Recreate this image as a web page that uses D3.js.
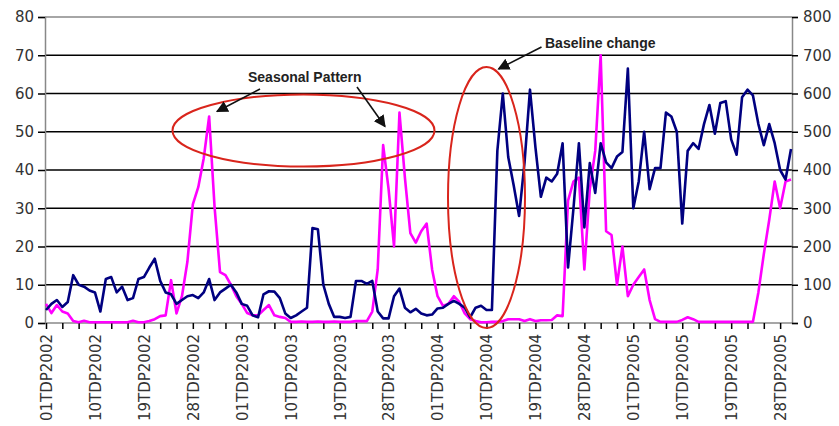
<!DOCTYPE html>
<html>
<head>
<meta charset="utf-8">
<script src="https://cdn.jsdelivr.net/npm/d3@7"></script>
<style>
  html, body { margin: 0; padding: 0; background: #fff; }
  svg { display: block; }
</style>
</head>
<body>
<div id="chart"></div>
<script>
// dekads (ten day periods), 36 per year, 01TDP2002 .. 30TDP2005
const years = [2002, 2003, 2004, 2005];
const periodsShown = 138;
const categories = years.flatMap(y => d3.range(1, 37).map(d => String(d).padStart(2, "0") + "TDP" + y)).slice(0, periodsShown);

const tickLabels = [
  "01TDP2002", "10TDP2002", "19TDP2002", "28TDP2002",
  "01TDP2003", "10TDP2003", "19TDP2003", "28TDP2003",
  "01TDP2004", "10TDP2004", "19TDP2004", "28TDP2004",
  "01TDP2005", "10TDP2005", "19TDP2005", "28TDP2005"
];

const leftTicks = [0, 10, 20, 30, 40, 50, 60, 70, 80];
const rightTicks = [0, 100, 200, 300, 400, 500, 600, 700, 800];

// navy series, left axis
const blueSeries = [
  3.4, 5, 6, 4.2, 5.5, 12.5, 10, 9.5, 8.5, 8,
  3, 11.5, 12, 8, 9.5, 6, 6.5, 11.5, 12, 14.5,
  16.8, 11, 8, 7.5, 5, 6, 7, 7.3, 6.5, 8,
  11.5, 6, 8, 9, 10, 8, 5, 4.5, 2, 1.5,
  7.5, 8.3, 8.2, 6.5, 2.5, 1.3, 2, 3, 4, 24.8,
  24.5, 10, 5, 1.6, 1.6, 1.3, 1.6, 11, 11, 10.2,
  11, 3, 1.2, 1.2, 7, 9, 4, 2.8, 3.7, 2.5,
  2, 2.2, 3.8, 4, 5, 5.8, 5, 4, 1.5, 4,
  4.5, 3.4, 3.4, 45, 60, 43.4, 36, 28, 42, 61,
  46, 33, 38, 37, 39, 47, 14.5, 30, 47, 25,
  41.8, 34, 47, 42, 40.5, 43.5, 44.7, 66.5, 30, 37,
  50, 35, 40.5, 40.5, 55, 54, 50, 26, 45, 47,
  45.5, 52, 57, 49.5, 57.5, 58, 48, 44, 59, 61,
  59.5, 52, 46.5, 52, 47, 40, 37.5, 45.5
];

// magenta series, right axis
const magentaSeries = [
  50, 26, 47, 30, 25, 5, 2, 6, 2, 2,
  2, 2, 2, 2, 2, 2, 6, 2, 2, 5,
  10, 18, 20, 112, 25, 70, 160, 310, 355, 430,
  540, 303, 133, 125, 100, 70, 50, 26, 20, 20,
  34, 47, 20, 16, 13, 3, 3, 4, 3, 3,
  4, 3, 3, 4, 3, 3, 3, 5, 5, 5,
  30, 140, 465, 350, 200, 550, 380, 235, 210, 240,
  260, 140, 70, 45, 50, 70, 55, 25, 10, 5,
  2, 2, 3, 3, 5, 10, 10, 10, 5, 10,
  5, 7, 7, 8, 20, 18, 320, 370, 380, 140,
  350, 450, 700, 240, 230, 100, 200, 70, 100, 120,
  140, 60, 10, 3, 3, 3, 3, 8, 15, 10,
  3, 3, 3, 3, 3, 3, 3, 3, 3, 3,
  3, 80, 180, 270, 370, 300, 370, 375
];

const width = 839, height = 426;
const plotLeft = 45, plotRight = 792, plotTop = 17, plotBottom = 323;

const svg = d3.select("#chart").append("svg")
  .attr("width", width)
  .attr("height", height);

const x = d3.scalePoint()
  .domain(categories)
  .range([plotLeft + 1, plotRight - 1]);

const yLeft = d3.scaleLinear().domain([0, 80]).range([plotBottom, plotTop]);
const yRight = d3.scaleLinear().domain([0, 800]).range([plotBottom, plotTop]);

// gridlines
svg.append("g")
  .selectAll("line")
  .data(leftTicks.filter(d => d > 0))
  .join("line")
  .attr("x1", plotLeft).attr("x2", plotRight)
  .attr("y1", d => yLeft(d)).attr("y2", d => yLeft(d))
  .attr("stroke", d => d === 80 ? "#888" : "#000")
  .attr("stroke-width", d => d === 80 ? 1.5 : 1.6);

// left axis
const gLeft = svg.append("g")
  .attr("transform", `translate(${plotLeft},0)`)
  .call(d3.axisLeft(yLeft).tickValues(leftTicks).tickSize(7).tickPadding(4));
gLeft.select(".domain").attr("stroke", "#888").attr("stroke-width", 1.5);
gLeft.selectAll(".tick line").attr("stroke", "#000").attr("stroke-width", 1.5);

// right axis
const gRight = svg.append("g")
  .attr("transform", `translate(${plotRight},0)`)
  .call(d3.axisRight(yRight).tickValues(rightTicks).tickSize(6).tickPadding(5));
gRight.select(".domain").attr("stroke", "#888").attr("stroke-width", 1.5);
gRight.selectAll(".tick line").attr("stroke", "#000").attr("stroke-width", 1.5);

[gLeft, gRight].forEach(g => g.selectAll(".tick text")
  .attr("font-family", "DejaVu Sans, Verdana, sans-serif")
  .attr("font-size", 15)
  .attr("fill", "#333"));

// bottom axis
const gBottom = svg.append("g")
  .attr("transform", `translate(0,${plotBottom})`)
  .call(d3.axisBottom(x)
    .tickValues(categories.filter((d, i) => i % 3 === 0))
    .tickSize(6)
    .tickFormat(d => tickLabels.includes(d) ? d : ""));
gBottom.select(".domain").attr("stroke", "#888").attr("stroke-width", 1.5)
  .attr("d", `M${plotLeft},0H${plotRight}`);
gBottom.selectAll(".tick line").attr("stroke", "#000").attr("stroke-width", 1.5);
gBottom.selectAll(".tick text")
  .attr("font-family", "DejaVu Sans, Verdana, sans-serif")
  .attr("font-size", 15)
  .attr("fill", "#333")
  .attr("text-anchor", "end")
  .attr("transform", "translate(0,11) rotate(-90)")
  .attr("x", 0)
  .attr("y", 0)
  .attr("dy", "0.36em");

// series
const lineBlue = d3.line()
  .x((d, i) => x(categories[i]))
  .y(d => yLeft(d));
const lineMagenta = d3.line()
  .x((d, i) => x(categories[i]))
  .y(d => yRight(d));

svg.append("path")
  .datum(magentaSeries)
  .attr("fill", "none")
  .attr("stroke", "#ff00ff")
  .attr("stroke-width", 2.6)
  .attr("stroke-linejoin", "round")
  .attr("d", lineMagenta);

svg.append("path")
  .datum(blueSeries)
  .attr("fill", "none")
  .attr("stroke", "#000080")
  .attr("stroke-width", 2.6)
  .attr("stroke-linejoin", "round")
  .attr("d", lineBlue);

// annotations
const red = "#d9251c";
svg.append("ellipse")
  .attr("cx", 303.5).attr("cy", 130.5).attr("rx", 131).attr("ry", 36)
  .attr("fill", "none").attr("stroke", red).attr("stroke-width", 2);
svg.append("ellipse")
  .attr("cx", 486.5).attr("cy", 197.5).attr("rx", 38.5).attr("ry", 130.5)
  .attr("fill", "none").attr("stroke", red).attr("stroke-width", 2);

svg.append("defs").append("marker")
  .attr("id", "arrow")
  .attr("viewBox", "0 0 10 10")
  .attr("refX", 9).attr("refY", 5)
  .attr("markerWidth", 12).attr("markerHeight", 12)
  .attr("markerUnits", "userSpaceOnUse")
  .attr("orient", "auto")
  .append("path")
  .attr("d", "M0,0L10,5L0,10Z")
  .attr("fill", "#111");

const arrows = [
  [260, 89, 217, 111.5],
  [357, 87, 385, 126.5],
  [541.5, 47, 498.5, 69]
];
svg.append("g")
  .selectAll("line")
  .data(arrows)
  .join("line")
  .attr("x1", d => d[0]).attr("y1", d => d[1])
  .attr("x2", d => d[2]).attr("y2", d => d[3])
  .attr("stroke", "#111")
  .attr("stroke-width", 1.6)
  .attr("marker-end", "url(#arrow)");

svg.append("text")
  .attr("x", 248).attr("y", 82)
  .attr("font-family", "Liberation Sans, Arial, sans-serif")
  .attr("font-weight", "bold")
  .attr("font-size", 14)
  .attr("fill", "#222")
  .text("Seasonal Pattern");

svg.append("text")
  .attr("x", 545).attr("y", 48)
  .attr("font-family", "Liberation Sans, Arial, sans-serif")
  .attr("font-weight", "bold")
  .attr("font-size", 14)
  .attr("fill", "#222")
  .text("Baseline change");
</script>
</body>
</html>
